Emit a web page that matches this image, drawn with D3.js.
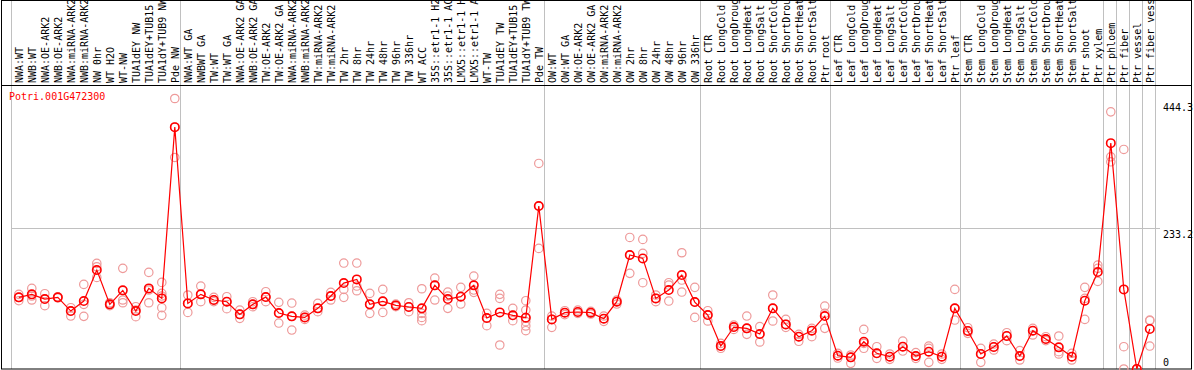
<!DOCTYPE html>
<html>
<head>
<meta charset="utf-8">
<script src="https://cdn.jsdelivr.net/npm/d3@7"></script>
<style>
	body { margin: 0; background: #fff; }
	text { font-family: "DejaVu Sans Mono", monospace; font-size: 10px; }
</style>
</head>
<body>
<svg id="chart"></svg>
<script>
//gene shown
var geneId = "Potri.001G472300";

//sample labels, left to right
var samples = [
	"NWA:WT", "NWB:WT", "NWA:OE-ARK2", "NWB:OE-ARK2", "NWA:miRNA-ARK2", "NWB:miRNA-ARK2", "NW 0hr", "WT H2O", "WT-NW", "TUA1dEY NW", "TUA1dEY+TUB15", "TUA1dY+TUB9 NW", "Pde NW",
	"NWA:WT GA", "NWBWT GA", "TW:WT", "TW:WT GA", "NWA:OE-ARK2 GA", "NWB:OE-ARK2 GA", "TW:OE-ARK2", "TW:OE-ARK2 GA", "NWA:miRNA-ARK2", "NWB:miRNA-ARK2", "TW:miRNA-ARK2", "TW:miRNA-ARK2 GA",
	"TW 2hr", "TW 8hr", "TW 24hr", "TW 48hr", "TW 96hr", "TW 336hr", "WT ACC", "35S::etr1-1 H2O", "35S::etr1-1 ACC", "LMX5::etr1-1 H2O", "LMX5::etr1-1 ACC", "WT-TW", "TUA1dEY TW", "TUA1dEY+TUB15", "TUA1dY+TUB9 TW", "Pde TW",
	"OW:WT", "OW:WT GA", "OW:OE-ARK2", "OW:OE-ARK2 GA", "OW:miRNA-ARK2", "OW:miRNA-ARK2 GA", "OW 2hr", "OW 8hr", "OW 24hr", "OW 48hr", "OW 96hr", "OW 336hr",
	"Root CTR", "Root LongCold", "Root LongDrought", "Root LongHeat", "Root LongSalt", "Root ShortCold", "Root ShortDrought", "Root ShortHeat", "Root ShortSalt", "Ptr root",
	"Leaf CTR", "Leaf LongCold", "Leaf LongDrought", "Leaf LongHeat", "Leaf LongSalt", "Leaf ShortCold", "Leaf ShortDrought", "Leaf ShortHeat", "Leaf ShortSalt", "Ptr leaf",
	"Stem CTR", "Stem LongCold", "Stem LongDrought", "Stem LongHeat", "Stem LongSalt", "Stem ShortCold", "Stem ShortDrought", "Stem ShortHeat", "Stem ShortSalt", "Ptr shoot", "Ptr xylem",
	"Ptr phloem", "Ptr fiber", "Ptr vessel", "Ptr fiber vessel"
];

//number of samples in each group (separated by grey lines)
var groupSizes = [13, 28, 12, 10, 10, 11, 1, 1, 1, 1];

//mean expression per sample
var means = [
	118.8, 123.8, 116.0, 118.8, 96.1, 112.7, 164.1, 107.2, 130.4, 96.1, 133.7, 117.1, 401.1,
	108.8, 123.8, 114.4, 111.6, 90.6, 107.2, 119.3, 92.8, 87.3, 85.6, 100.6, 121.0,
	142.5, 148.6, 107.2, 112.2, 105.5, 102.8, 100.6, 138.7, 116.0, 119.9, 138.7, 84.5, 93.9, 89.0, 85.1, 270.2,
	82.3, 93.4, 94.5, 93.4, 83.4, 111.6, 189.0, 183.4, 117.1, 130.9, 155.8, 111.0,
	89.5, 38.1, 69.6, 67.4, 58.0, 100.6, 74.0, 53.6, 63.5, 87.8,
	22.1, 19.3, 45.3, 26.0, 20.4, 37.0, 21.5, 28.7, 20.4, 100.6,
	63.0, 24.9, 36.5, 54.7, 21.5, 63.5, 49.7, 35.9, 20.4, 113.3, 160.8,
	374.6, 132.0, 0, 66.3
];

//replicate values per sample
var reps = [
	[123.8, 118.8, 113.3], [133.7, 121.0, 114.4], [124.9, 116.0, 105.0], [118.0, 119.0, 119.5], [101.7, 96.1, 87.8],
	[140.3, 107.2, 87.3], [175.1, 169.6, 151.9], [109.9, 107.2, 105.0], [166.9, 114.4, 109.9], [103.3, 97.8, 86.7],
	[160.2, 130.9, 109.9], [143.6, 125.4, 121.0, 101.7, 89.0], [448.6, 401.1, 350.8],
	[122.7, 108.8, 93.9], [137.6, 123.8, 111.6], [118.8, 114.4, 111.6], [119.9, 111.6, 100.0], [97.8, 90.6, 84.0],
	[111.6, 107.2, 103.3], [128.2, 119.3, 111.6], [110.5, 92.8, 76.2], [109.4, 87.3, 64.6], [89.5, 85.6, 82.3],
	[108.8, 100.6, 95.0], [127.1, 121.0, 114.4],
	[175.7, 132.0, 118.8], [175.7, 137.6, 129.8], [125.4, 107.2, 92.3], [132.0, 112.2, 93.9], [107.7, 105.5, 103.3],
	[109.9, 102.8, 95.0], [133.1, 92.3, 85.6, 80.1], [150.8, 138.7, 114.4], [127.6, 121.0, 100.6], [135.4, 119.9, 107.7],
	[154.1, 130.9, 127.1], [92.3, 84.5, 71.8], [123.8, 117.1, 39.8], [100.6, 89.0, 80.1],
	[113.3, 97.8, 85.6, 78.5, 71.3, 63.5], [340.9, 270.2, 200.0],
	[87.8, 82.3, 69.1], [96.7, 93.4, 90.1], [97.8, 94.5, 92.3], [95.6, 93.4, 91.2], [87.8, 83.4, 79.0], [114.4, 111.6, 107.7],
	[218.2, 189.0, 158.6], [214.9, 191.7, 143.1], [122.7, 117.1, 111.6], [143.1, 139.2, 112.7], [192.8, 147.5, 127.6], [135.4, 111.0, 85.6],
	[96.7, 89.5, 79.6], [42.5, 38.1, 34.3], [72.9, 69.6, 65.7], [87.8, 67.4, 57.5], [70.2, 58.0, 44.8],
	[122.7, 100.6, 79.6], [82.3, 74.0, 69.1], [57.5, 53.6, 45.9], [67.4, 63.5, 53.6], [104.4, 92.3, 67.4],
	[26.0, 22.1, 18.2], [23.2, 19.3, 9.4], [65.7, 42.5, 34.3], [37.0, 26.0, 17.7], [24.9, 20.4, 16.0],
	[46.4, 37.0, 29.8], [27.1, 21.5, 17.7], [38.1, 34.3, 11.0], [24.9, 20.4, 16.0], [132.0, 100.6, 81.2],
	[68.5, 63.0, 59.1], [34.3, 24.9, 11.0], [41.4, 36.5, 31.5], [60.2, 54.7, 47.0], [30.4, 21.5, 14.9],
	[67.4, 63.5, 56.4], [53.6, 49.7, 47.0], [54.7, 28.7, 24.9], [26.0, 20.4, 14.9], [135.4, 117.1, 82.3], [172.4, 166.9, 145.3],
	[426.5, 351.9, 343.6], [364.1, 37.0, 0], [0, 0, 0], [81.2, 80.1, 38.1]
];

//right axis labels
var yTicks = [0, 233.2, 444.3];
var yGrid = [233.2];

(function() {
	var width = 1194, height = 370,
		plotTop = 85, plotBottom = 369, plotLeft = 11, plotRight = 1155;

	var svg = d3.select("#chart").attr("width", width).attr("height", height);

	var x = d3.scaleBand().domain(d3.range(samples.length)).range([plotLeft, plotRight]);
	var y = d3.scaleLinear().domain([0, 471]).range([plotBottom, plotTop]);
	var cx = function(i) { return x(i) + 7.8; };

	//horizontal grid
	svg.append("g").selectAll("line").data(yGrid).enter().append("line")
		.attr("x1", plotLeft).attr("x2", 1160)
		.attr("y1", function(v) { return Math.round(y(v)) + 0.5; })
		.attr("y2", function(v) { return Math.round(y(v)) + 0.5; })
		.style("stroke", "#c0c0c0").style("stroke-width", 1);

	//group separators
	var bounds = [0];
	groupSizes.forEach(function(n) { bounds.push(bounds[bounds.length - 1] + n); });
	svg.append("g").selectAll("line").data(bounds).enter().append("line")
		.attr("x1", function(k) { return Math.round(plotLeft + x.step() * k) + 0.5; })
		.attr("x2", function(k) { return Math.round(plotLeft + x.step() * k) + 0.5; })
		.attr("y1", 0).attr("y2", plotBottom)
		.style("stroke", "#c0c0c0").style("stroke-width", 1);

	//frame
	svg.append("rect").attr("x", 1.5).attr("y", 0.5).attr("width", 1190).attr("height", plotBottom - 0.5)
		.style("fill", "none").style("stroke", "#000").style("stroke-width", 1);
	svg.append("line").attr("x1", 1).attr("x2", 1192).attr("y1", plotTop + 0.5).attr("y2", plotTop + 0.5)
		.style("stroke", "#000").style("stroke-width", 1);

	//sample labels
	svg.append("g").selectAll("text").data(samples).enter().append("text")
		.attr("transform", function(d, i) { return "translate(" + (cx(i) + 4) + "," + (plotTop - 2) + ") rotate(-90)"; })
		.style("fill", "#000")
		.text(function(d) { return d; });

	//axis labels
	svg.append("g").selectAll("text").data(yTicks).enter().append("text")
		.attr("x", 1163)
		.attr("y", function(v) { return Math.min(y(v) + 10, 366); })
		.style("fill", "#000")
		.text(function(v) { return v; });

	//gene id
	svg.append("text").attr("x", 9).attr("y", 100).style("fill", "red").text(geneId);

	//replicates
	var repPts = [];
	reps.forEach(function(r, i) { r.forEach(function(v) { repPts.push([i, v]); }); });
	svg.append("g").selectAll("circle").data(repPts).enter().append("circle")
		.attr("cx", function(d) { return cx(d[0]); })
		.attr("cy", function(d) { return y(d[1]); })
		.attr("r", 4.2)
		.style("fill", "none").style("stroke", "#ee9a9a").style("stroke-width", 1.2);

	//mean line
	svg.append("path").datum(means)
		.attr("d", d3.line().x(function(d, i) { return cx(i); }).y(function(d) { return y(d); }))
		.style("fill", "none").style("stroke", "red").style("stroke-width", 1.2);

	//mean markers
	svg.append("g").selectAll("circle").data(means).enter().append("circle")
		.attr("cx", function(d, i) { return cx(i); })
		.attr("cy", function(d) { return y(d); })
		.attr("r", 4.2)
		.style("fill", "none").style("stroke", "red").style("stroke-width", 1.6);
})();
</script>
</body>
</html>
